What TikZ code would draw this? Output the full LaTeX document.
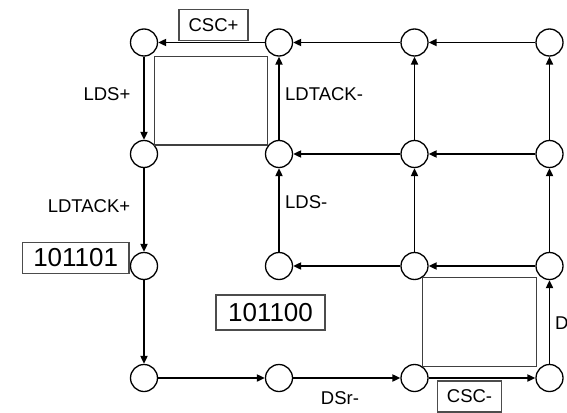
\documentclass[tikz,border=0pt]{standalone}
\usepackage{fontspec}
\setmainfont{Liberation Sans}
\usetikzlibrary{arrows.meta}
\begin{document}
\begin{tikzpicture}[x=1pt,y=-1pt,
  st/.style={circle,draw=black,line width=1.3pt,minimum size=27pt,inner sep=0pt},
  edge/.style={line width=1.9pt,-{Triangle[length=8pt,width=7pt]}},
  lbl/.style={inner sep=0pt,font=\fontsize{18.5}{20}\selectfont},
  codebox/.style={draw=black!70,line width=1.2pt,inner sep=0pt},
  region/.style={draw=black!75,line width=1.3pt}]
\useasboundingbox (0,0) rectangle (567,412);
% states
\foreach \r/\y in {1/42.5,2/154,3/266,4/378}{
  \foreach \c/\x in {1/144,2/279,3/414.5,4/549.5}{
    \node[st] (c\r\c) at (\x,\y) {};
  }
}
% regions
\draw[region] (154.3,56.7) rectangle (267.7,145);
\draw[region] (422.7,277.7) rectangle (536.7,366.7);
% row edges
\draw[edge] (c12) -- (c11);
\draw[edge] (c13) -- (c12);
\draw[edge] (c14) -- (c13);
\draw[edge] (c23) -- (c22);
\draw[edge] (c24) -- (c23);
\draw[edge] (c33) -- (c32);
\draw[edge] (c34) -- (c33);
\draw[edge] (c41) -- (c42);
\draw[edge] (c42) -- (c43);
\draw[edge] (c43) -- (c44);
% column edges
\draw[edge] (c11) -- (c21);
\draw[edge] (c21) -- (c31);
\draw[edge] (c31) -- (c41);
\draw[edge] (c22) -- (c12);
\draw[edge] (c32) -- (c22);
\draw[edge] (c23) -- (c13);
\draw[edge] (c33) -- (c23);
\draw[edge] (c24) -- (c14);
\draw[edge] (c34) -- (c24);
\draw[edge] (c44) -- (c34);
% boxes
\node[codebox,minimum width=69pt,minimum height=31pt,font=\fontsize{18.5}{20}\selectfont] (cscp) at (213.5,24.7) {CSC+};
\node[codebox,minimum width=64.4pt,minimum height=31pt,font=\fontsize{18.5}{20}\selectfont] (cscm) at (469.5,396.5) {CSC-};
\node[codebox,minimum width=106.7pt,minimum height=31pt,font=\fontsize{26}{28}\selectfont] (b1) at (75.7,257.8) {101101};
\node[codebox,minimum width=109pt,minimum height=35pt,font=\fontsize{26}{28}\selectfont] (b2) at (270.5,312.5) {101100};
% labels
\node[lbl] (l1) at (107,94) {LDS+};
\node[lbl] (l2) at (89,206) {LDTACK+};
\node[lbl,anchor=west] (l3) at (285,94.5) {LDTACK-};
\node[lbl,anchor=west] (l4) at (285,202) {LDS-};
\node[lbl] (l5) at (340,398) {DSr-};
\node[lbl,anchor=west] (l6) at (555,323) {D};
\end{tikzpicture}
\end{document}
